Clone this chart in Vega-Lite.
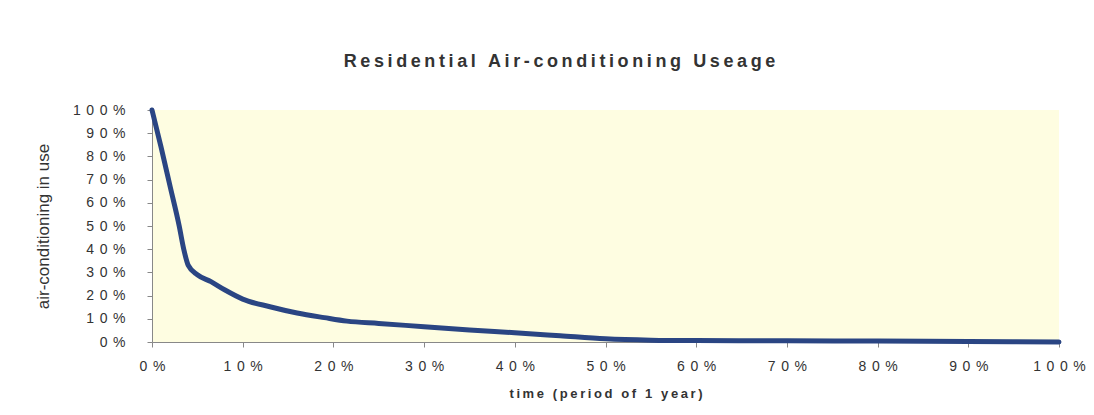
{
  "$schema": "https://vega.github.io/schema/vega-lite/v6.json",
  "width": 907,
  "height": 232,
  "autosize": {"type": "none"},
  "padding": {"left": 152, "top": 110, "right": 35, "bottom": 73},
  "background": "#ffffff",
  "title": {
    "text": {"expr": "join(split('Residential Air-conditioning Useage', ''), '\u2009')"},
    "font": "Liberation Sans",
    "fontSize": 18,
    "fontWeight": "bold",
    "color": "#333333",
    "anchor": "middle",
    "dx": -46,
    "offset": 32
  },
  "config": {
    "view": {"fill": "#fefde1", "stroke": null},
    "axis": {
      "labelFont": "Liberation Sans",
      "titleFont": "Liberation Sans",
      "labelColor": "#333333",
      "titleColor": "#333333",
      "domainColor": "#888888",
      "tickColor": "#888888",
      "grid": false,
      "tickSize": 5,
      "labelFlush": false
    }
  },
  "data": {
    "values": [
      {"time": 0.0, "use": 1.0},
      {"time": 0.01, "use": 0.84},
      {"time": 0.02, "use": 0.67},
      {"time": 0.03, "use": 0.5},
      {"time": 0.035, "use": 0.4},
      {"time": 0.04, "use": 0.33},
      {"time": 0.05, "use": 0.29},
      {"time": 0.065, "use": 0.26},
      {"time": 0.08, "use": 0.225},
      {"time": 0.1, "use": 0.185},
      {"time": 0.13, "use": 0.152},
      {"time": 0.16, "use": 0.125},
      {"time": 0.19, "use": 0.105},
      {"time": 0.215, "use": 0.09},
      {"time": 0.25, "use": 0.08},
      {"time": 0.3, "use": 0.066},
      {"time": 0.35, "use": 0.052},
      {"time": 0.4, "use": 0.04},
      {"time": 0.45, "use": 0.027},
      {"time": 0.5, "use": 0.014},
      {"time": 0.55, "use": 0.008},
      {"time": 0.6, "use": 0.006},
      {"time": 0.7, "use": 0.005},
      {"time": 0.8, "use": 0.004},
      {"time": 0.9, "use": 0.002},
      {"time": 1.0, "use": 0.0}
    ]
  },
  "mark": {"type": "line", "color": "#2a4583", "strokeWidth": 5, "strokeJoin": "round", "strokeCap": "round", "interpolate": "monotone"},
  "encoding": {
    "x": {
      "field": "time",
      "type": "quantitative",
      "scale": {"domain": [0, 1], "nice": false, "zero": true},
      "axis": {
        "title": {"expr": "join(split('time (period of 1 year)', ''), '\u2009')"},
        "format": ".0%",
        "values": [0, 0.1, 0.2, 0.3, 0.4, 0.5, 0.6, 0.7, 0.8, 0.9, 1],
        "labelFontSize": 14,
        "labelPadding": 12,
        "labelExpr": "join(split(datum.label, ''), '\u2009\u2009')",
        "titleFontSize": 13,
        "titleFontWeight": "bold",
        "titlePadding": 14
      }
    },
    "y": {
      "field": "use",
      "type": "quantitative",
      "scale": {"domain": [0, 1], "nice": false},
      "axis": {
        "title": "air-conditioning in use",
        "format": ".0%",
        "values": [0, 0.1, 0.2, 0.3, 0.4, 0.5, 0.6, 0.7, 0.8, 0.9, 1],
        "labelFontSize": 14,
        "labelPadding": 22,
        "labelExpr": "join(split(datum.label, ''), '\u2009\u2009')",
        "titleFontSize": 17,
        "titleFontWeight": "normal",
        "titlePadding": 20
      }
    }
  }
}
